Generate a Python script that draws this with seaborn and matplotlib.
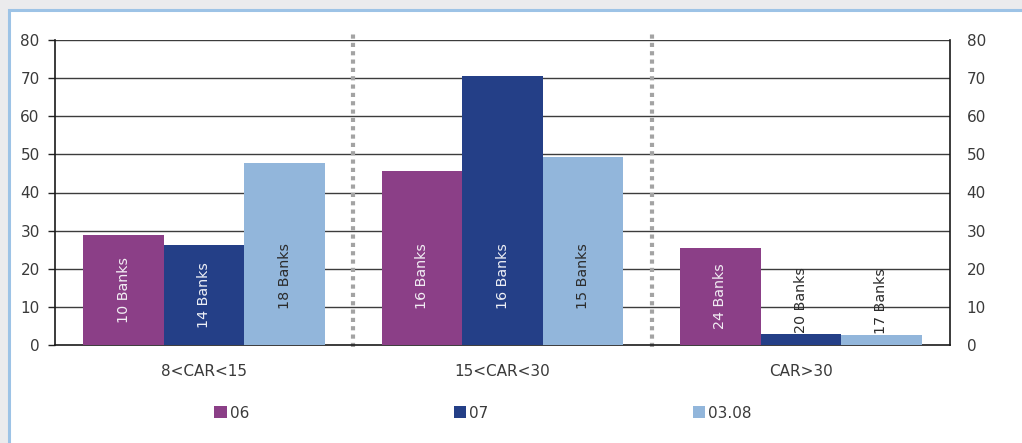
import matplotlib
matplotlib.use("Agg")
import matplotlib.pyplot as plt
from matplotlib.patches import Rectangle, Patch
import seaborn as sns
import pandas as pd

categories = ["8<CAR<15", "15<CAR<30", "CAR>30"]
periods = ["06", "07", "03.08"]
values_06 = [28.9, 45.6, 25.4]
values_07 = [26.2, 70.6, 2.9]
values_0308 = [47.7, 49.3, 2.6]
banks_06 = ["10 Banks", "16 Banks", "24 Banks"]
banks_07 = ["14 Banks", "16 Banks", "20 Banks"]
banks_0308 = ["18 Banks", "15 Banks", "17 Banks"]
y_ticks = [0, 10, 20, 30, 40, 50, 60, 70, 80]

colors = ["#8b3f87", "#243f87", "#92b6db"]
text_colors = ["#f2eef4", "#eef0f6", "#2b2b2b"]

series_values = [values_06, values_07, values_0308]
series_banks = [banks_06, banks_07, banks_0308]

rows = []
for period, vals, banks in zip(periods, series_values, series_banks):
    for cat, v, b in zip(categories, vals, banks):
        rows.append({"category": cat, "period": period, "value": v, "banks": b})
df = pd.DataFrame(rows)

sns.set_theme(style="white")
plt.rcParams["font.family"] = ["DejaVu Sans"]

fig = plt.figure(figsize=(10.22, 4.43), dpi=100)
fig.patch.set_facecolor("#ebebed")
fig.add_artist(Rectangle((9 / 1022, -0.05), 1.2, (443 - 10) / 443 + 0.05,
                         transform=fig.transFigure, facecolor="white",
                         edgecolor="#9dc3e6", linewidth=2.2, zorder=-10))

ax = fig.add_axes([55 / 1022, (443 - 345) / 443, 895 / 1022, 305 / 443])
ax.set_facecolor("white")

sns.barplot(data=df, x="category", y="value", hue="period", order=categories,
            hue_order=periods, palette=colors, width=0.81, saturation=1,
            edgecolor="none", linewidth=0, ax=ax, legend=False, zorder=3)

ax.set_xlim(-0.5, 2.5)
ax.set_ylim(0, 80)
ax.set_yticks(y_ticks)
ax.set_yticklabels([str(t) for t in y_ticks], fontsize=11, color="#3a3a3a")
ax.set_xlabel("")
ax.set_ylabel("")
ax.grid(False)
for t in y_ticks[1:]:
    ax.axhline(t, color="#3c3c3c", linewidth=1.0, zorder=1)

# Category ticks sit on the group boundaries, labels stay centred
ax.set_xticks([-0.5, 0.5, 1.5, 2.5])
ax.set_xticklabels([])
ax.set_xticks([0, 1, 2], minor=True)
ax.set_xticklabels(categories, minor=True, fontsize=11, color="#3a3a3a")
ax.tick_params(axis="x", which="major", length=5, width=1, color="#222222", direction="out")
ax.tick_params(axis="x", which="minor", length=0, pad=14)
ax.tick_params(axis="y", length=5, width=1, color="#222222", direction="out", pad=6)

for side in ["left", "bottom", "right"]:
    ax.spines[side].set_visible(True)
    ax.spines[side].set_color("#1a1a1a")
    ax.spines[side].set_linewidth(1.2)
ax.spines["top"].set_visible(False)

# Dotted separators between groups
for xsep in [0.5, 1.5]:
    ax.plot([xsep, xsep], [-0.5, 81.8], color="#a3a3a3", linewidth=3,
            linestyle=(0, (1, 1)), clip_on=False, zorder=2)

# Secondary axis on the right
ax2 = ax.twinx()
ax2.set_ylim(0, 80)
ax2.set_yticks(y_ticks)
ax2.set_yticklabels([str(t) for t in y_ticks], fontsize=11, color="#3a3a3a")
ax2.tick_params(axis="y", length=0, pad=12)
for side in ["left", "bottom", "top", "right"]:
    ax2.spines[side].set_visible(False)
ax2.grid(False)

# Rotated bank counts inside/above each bar
for container, banks, tcolor in zip(ax.containers, series_banks, text_colors):
    for bar, label in zip(container, banks):
        h = bar.get_height()
        xc = bar.get_x() + bar.get_width() / 2
        if h > 10:
            ax.text(xc, min(h / 2, 18), label, rotation=90, ha="center", va="center",
                    fontsize=10.3, color=tcolor, zorder=5)
        else:
            ax.text(xc, h + 0.3, label, rotation=90, ha="center", va="bottom",
                    fontsize=10.3, color="#2b2b2b", zorder=5)

handles = [Patch(facecolor=c, edgecolor="none") for c in colors]
fig.legend(handles, periods, loc="center", bbox_to_anchor=(483 / 1022, 1 - 413 / 443),
           ncol=3, frameon=False, fontsize=11, handlelength=0.8, handleheight=0.8,
           handletextpad=0.2, columnspacing=13.4, labelcolor="#3a3a3a")

fig.savefig("out.png", dpi=100, facecolor=fig.get_facecolor())
